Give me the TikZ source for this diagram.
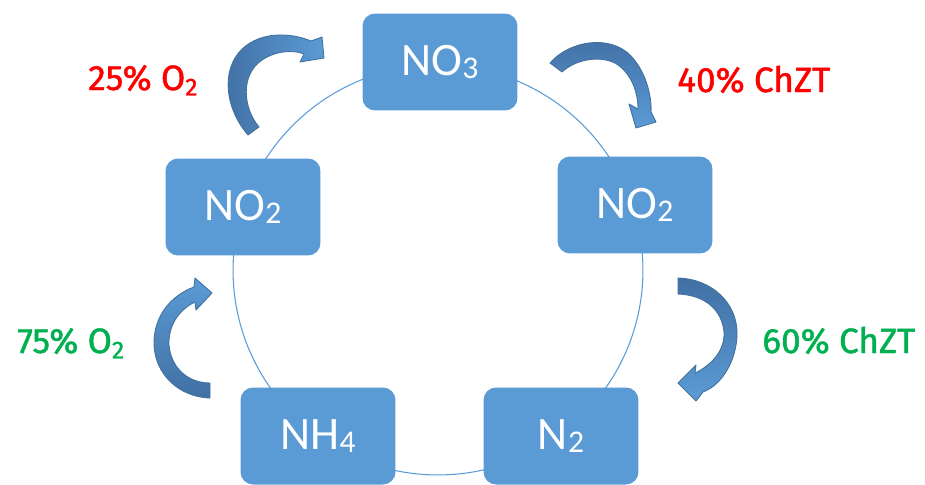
\documentclass[tikz,border=0pt]{standalone}
\usepackage{fontspec}
\newfontfamily\boxfont{Carlito}
\newfontfamily\labfont{Fira Sans}[FakeBold=1.3]
\newcommand{\low}[1]{\raisebox{-0.07em}{\fontsize{18pt}{18pt}\selectfont #1}}

\definecolor{boxblue}{HTML}{5B9BD5}
\definecolor{arrowdark}{HTML}{4170A4}
\definecolor{arrowlight}{HTML}{5B9BD5}
\definecolor{arrowedge}{HTML}{41719C}
\definecolor{labred}{HTML}{FF0000}
\definecolor{labgreen}{HTML}{00B050}

\begin{document}
\begin{tikzpicture}[
    x=0.02cm, y=-0.02cm,
    species/.style={rectangle, rounded corners=0.25cm, fill=boxblue, text=white, minimum width=3.1cm, minimum height=1.94cm, inner sep=0pt, font=\boxfont\fontsize{26.5pt}{30pt}\selectfont},
    rate/.style={anchor=base west, inner sep=0pt, font=\labfont\fontsize{20pt}{24pt}\selectfont},
    cycle line/.style={draw=boxblue, line width=0.6pt},
    bent arrow/.style={draw=arrowedge, line width=0.5pt, line join=round}
]
    \useasboundingbox (0,0) rectangle (925,484);

    % Cycle
    \coordinate (hub) at (438,270);
    \draw[cycle line] (hub) circle [radius=4.1cm];

    % Species
    \node[species] (nitrate) at (440,62) {NO\low{3}};
    \node[species] (nitriteL) at (243,207) {NO\low{2}};
    \node[species] (nitriteR) at (635,205) {NO\low{2}};
    \node[species] (ammonium) at (318,436) {NH\low{4}};
    \node[species] (nitrogen) at (561,436) {N\low{2}};

    % Curved arrows
    \path[bent arrow, left color=arrowdark, right color=arrowlight]
        (248,135) -- (259,127)
        .. controls (243,108) and (240,75) .. (262,60)
        .. controls (277,50) and (295,50) .. (304,54)
        -- (300,62) -- (324,58) -- (322,37) -- (311,41)
        .. controls (285,30) and (250,33) .. (235,58)
        .. controls (222,80) and (228,112) .. (248,135) -- cycle;
    \path[bent arrow, top color=arrowdark, bottom color=arrowlight]
        (550,63)
        .. controls (570,40) and (610,35) .. (630,55)
        .. controls (645,70) and (652,95) .. (651,112)
        -- (656,122) -- (636,128) -- (629,104) -- (638,109)
        .. controls (638,90) and (630,72) .. (615,63)
        .. controls (598,55) and (575,60) .. (562,72) -- cycle;
    \path[bent arrow, top color=arrowdark, bottom color=arrowlight]
        (678,278)
        .. controls (712,279) and (737,303) .. (737,333)
        .. controls (737,360) and (722,385) .. (703,392)
        -- (696,401) -- (678,383) -- (696,365) -- (695,373)
        .. controls (712,365) and (725,350) .. (724,332)
        .. controls (722,310) and (705,295) .. (678,294) -- cycle;
    \path[bent arrow, top color=arrowlight, bottom color=arrowdark]
        (210,398)
        .. controls (178,397) and (154,373) .. (154,343)
        .. controls (154,315) and (172,295) .. (194,287)
        -- (195,278) -- (212,293) -- (196,310) -- (195,302)
        .. controls (178,310) and (168,327) .. (169,345)
        .. controls (171,368) and (188,383) .. (210,383) -- cycle;

    % Rates
    \node[rate, text=labred] (oxygenA) at (88,90) {25\% O\textsubscript{2}};
    \node[rate, text=labred] (chztA) at (677,92) {40\% ChZT};
    \node[rate, text=labgreen] (oxygenB) at (17,353) {75\% O\textsubscript{2}};
    \node[rate, text=labgreen] (chztB) at (762,353) {60\% ChZT};

\end{tikzpicture}
\end{document}
